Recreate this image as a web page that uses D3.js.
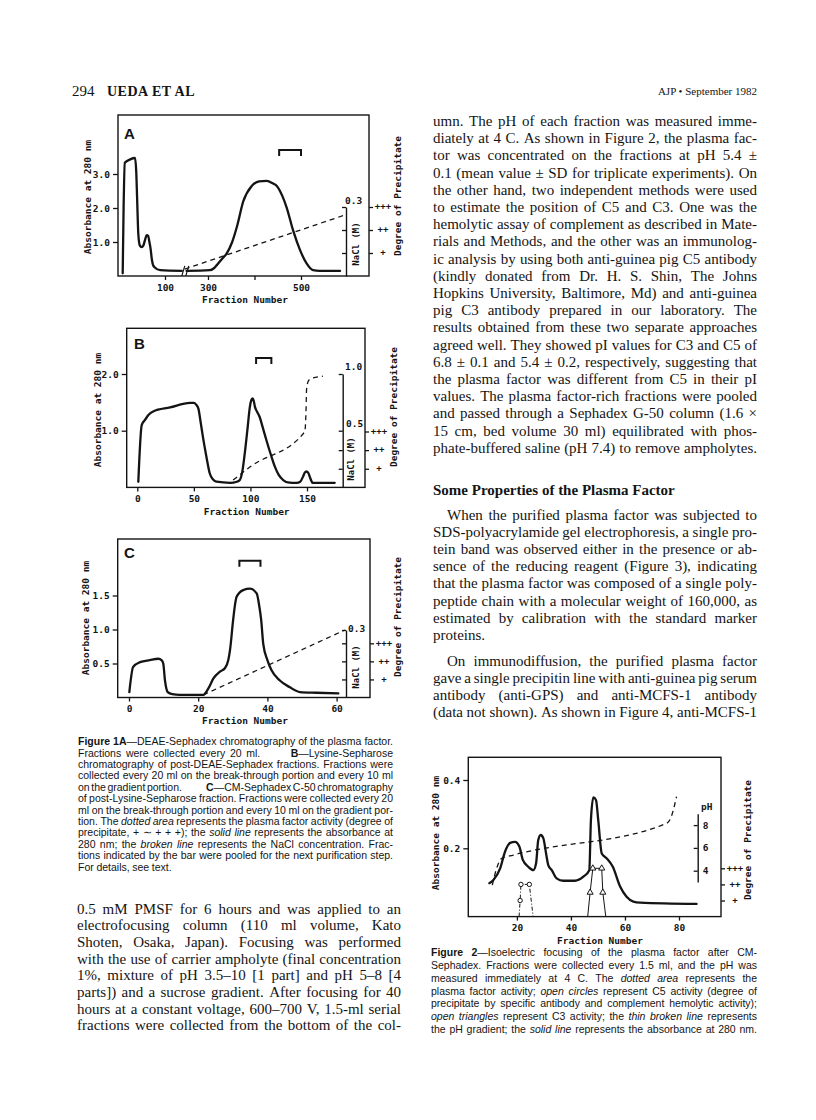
<!DOCTYPE html>
<html><head><meta charset="utf-8">
<script src="https://cdn.jsdelivr.net/npm/d3@7"></script>
<style>html,body{margin:0;padding:0;background:#fff;}svg{display:block}</style>
</head><body>
<script>
// ---------------- DATA ----------------
const absA_left = [[29.5,0.08],[31,2.0],[33,3.33],[42,3.43],[50,3.47],[52,3.1],[53.5,2.3],[55.5,1.24],[58,0.9],[61,0.85],[64,0.9],[67,1.08],[69.5,1.2],[72,1.18],[74,1.0],[76,0.8],[78,0.5],[80,0.33],[83,0.25],[92,0.17],[128,0.15]];
const absA_right = [[254,0.15],[304,0.17],[312,0.22],[319,0.32],[330,0.5],[340,0.66],[352,1.0],[362,1.44],[376,2.2],[394,2.65],[410,2.78],[426,2.8],[440,2.72],[448,2.65],[460,2.35],[469,2.02],[483,1.34],[498,0.76],[512,0.37],[526,0.17],[540,0.15],[584,0.15]];
const naclA = [[250,0.03],[594,0.265]];
const actA = [[418,0],[431,1.5],[444,3],[496,3],[508,1.5],[519,0]];
const barA = [453,500];
const absB = [[0.9,0.1],[3.9,1.1],[6.8,1.19],[10,1.28],[14,1.34],[29,1.41],[46.5,1.49],[50,1.49],[52,1.46],[54,1.39],[56,1.15],[58,0.89],[61,0.55],[64,0.25],[67,0.14],[70,0.1],[82,0.08],[88,0.1],[90.6,0.13],[93,0.3],[95,0.6],[97.5,1.05],[99.5,1.42],[101,1.55],[102,1.57],[103,1.52],[104,1.42],[106,1.33],[108,1.25],[111,1.05],[114,0.84],[118,0.58],[121.5,0.37],[125,0.22],[129,0.13],[133,0.09],[140.7,0.08],[144,0.1],[146.5,0.19],[148,0.26],[149.5,0.28],[151,0.26],[152.4,0.19],[154,0.11],[155,0.08],[174.5,0.08]];
const naclB = [[84.7,0.065],[99.5,0.18],[148,0.49],[149.2,0.7],[149.6,0.86],[150.5,0.92],[152,0.95],[154,0.96],[164,0.98]];
const actB = [[99.5,0],[101,1.2],[103,2.3],[105.4,3],[120,3],[122.5,2.2],[125,1.1],[127.4,0]];
const barB = [105,118.5];
const absC = [[0.1,0.08],[1.2,0.45],[3.2,0.52],[6,0.55],[8.5,0.57],[9.4,0.55],[9.9,0.5],[10.4,0.25],[11.2,0.08],[12.5,0.05],[14.7,0.04],[21.5,0.04],[22.9,0.13],[24.4,0.28],[26.3,0.38],[27.7,0.43],[28.7,0.55],[29.2,0.7],[30.1,1.14],[30.6,1.35],[31.1,1.48],[33,1.58],[35,1.6],[36.9,1.53],[37.6,1.36],[38.2,1.14],[38.8,0.79],[40,0.55],[41.2,0.4],[43.6,0.25],[46.5,0.15],[49.4,0.08],[54.2,0.07],[60.5,0.06]];
const naclC = [[21.5,0.012],[62.4,0.3]];
const actC = [[30.3,0],[30.3,3],[39.3,3],[39.3,0]];
const barC = [31.9,38];
const absF2 = [[9.8,0.098],[11.3,0.107],[13.8,0.141],[15.6,0.19],[17.5,0.216],[19.3,0.219],[20.9,0.205],[22.2,0.166],[24.2,0.146],[26.1,0.136],[27.1,0.156],[27.9,0.224],[28.8,0.239],[29.8,0.229],[30.8,0.185],[31.6,0.151],[32.9,0.136],[34.7,0.112],[37.2,0.105],[41.5,0.105],[44.6,0.117],[46.8,0.136],[47.4,0.283],[48.3,0.349],[49.3,0.341],[50.1,0.283],[51.4,0.185],[53.2,0.171],[55.5,0.146],[58.2,0.088],[60.6,0.058],[63.1,0.044],[65.6,0.041],[86.5,0.037]];
const phF2 = [[10.9,2.74],[12.5,4.2],[14.4,5.08],[18.7,5.37],[75.4,8.15],[76.9,8.6],[79.1,10.5]];
const actF2 = [[26.3,0],[26.3,3],[31.3,3],[31.3,0]];
const c5F2 = [[20.8,0],[21.2,1],[21.5,2],[24.6,2],[26,0]];
const c3F2 = [[46.2,0],[47.1,1.5],[48.1,3],[51.4,3],[51.8,1.5],[52.9,0]];
const absTicksA=[1,2,3], absTicksB=[1,2], absTicksC=[0.5,1,1.5], absTicksF2=[0.2,0.4];
const fracTicksAL=[100], fracTicksAR=[300,400,500], fracTicksB=[0,50,100,150], fracTicksC=[0,20,40,60], fracTicksF2=[20,40,60,80];
const degreeTicks=[1,2,3];
const phTicks=[4,6,8];

// ---------------- TEXT ----------------
const header = {page:"294", authors:"UEDA ET AL", journal:"AJP \u2022 September 1982"};
const rightCol1 = [
"umn. The pH of each fraction was measured imme-",
"diately at 4 C. As shown in Figure 2, the plasma fac-",
"tor was concentrated on the fractions at pH 5.4 \u00b1",
"0.1 (mean value \u00b1 SD for triplicate experiments). On",
"the other hand, two independent methods were used",
"to estimate the position of C5 and C3. One was the",
"hemolytic assay of complement as described in Mate-",
"rials and Methods, and the other was an immunolog-",
"ic analysis by using both anti-guinea pig C5 antibody",
"(kindly donated from Dr. H. S. Shin, The Johns",
"Hopkins University, Baltimore, Md) and anti-guinea",
"pig C3 antibody prepared in our laboratory. The",
"results obtained from these two separate approaches",
"agreed well. They showed pI values for C3 and C5 of",
"6.8 \u00b1 0.1 and 5.4 \u00b1 0.2, respectively, suggesting that",
"the plasma factor was different from C5 in their pI",
"values. The plasma factor-rich fractions were pooled",
"and passed through a Sephadex G-50 column (1.6 \u00d7",
"15 cm, bed volume 30 ml) equilibrated with phos-",
"phate-buffered saline (pH 7.4) to remove ampholytes."];
const heading = "Some Properties of the Plasma Factor";
const rightPara2 = [
"When the purified plasma factor was subjected to",
"SDS-polyacrylamide gel electrophoresis, a single pro-",
"tein band was observed either in the presence or ab-",
"sence of the reducing reagent (Figure 3), indicating",
"that the plasma factor was composed of a single poly-",
"peptide chain with a molecular weight of 160,000, as",
"estimated by calibration with the standard marker",
"proteins."];
const rightPara3 = [
"On immunodiffusion, the purified plasma factor",
"gave a single precipitin line with anti-guinea pig serum",
"antibody (anti-GPS) and anti-MCFS-1 antibody",
"(data not shown). As shown in Figure 4, anti-MCFS-1"];
const leftCol = [
"0.5 mM PMSF for 6 hours and was applied to an",
"electrofocusing column (110 ml volume, Kato",
"Shoten, Osaka, Japan). Focusing was performed",
"with the use of carrier ampholyte (final concentration",
"1%, mixture of pH 3.5\u201310 [1 part] and pH 5\u20138 [4",
"parts]) and a sucrose gradient. After focusing for 40",
"hours at a constant voltage, 600\u2013700 V, 1.5-ml serial",
"fractions were collected from the bottom of the col-"];
const cap1 = [
"*Figure 1A*\u2014DEAE-Sephadex chromatography of the plasma factor.",
"Fractions were collected every 20 ml. \u2003\u2003 *B*\u2014Lysine-Sepharose",
"chromatography of post-DEAE-Sephadex fractions. Fractions were",
"collected every 20 ml on the break-through portion and every 10 ml",
"on the gradient portion. \u2003\u2003 *C*\u2014CM-Sephadex C-50 chromatography",
"of post-Lysine-Sepharose fraction. Fractions were collected every 20",
"ml on the break-through portion and every 10 ml on the gradient por-",
"tion. The _dotted area_ represents the plasma factor activity (degree of",
"precipitate, + \u223c + + +); the _solid line_ represents the absorbance at",
"280 nm; the _broken line_ represents the NaCl concentration. Frac-",
"tions indicated by the bar were pooled for the next purification step.",
"For details, see text."];
const cap2 = [
"*Figure 2*\u2014Isoelectric focusing of the plasma factor after CM-",
"Sephadex. Fractions were collected every 1.5 ml, and the pH was",
"measured immediately at 4 C. The _dotted area_ represents the",
"plasma factor activity; _open circles_ represent C5 activity (degree of",
"precipitate by specific antibody and complement hemolytic activity);",
"_open triangles_ represent C3 activity; the _thin broken line_ represents",
"the pH gradient; the _solid line_ represents the absorbance at 280 nm."];

// ---------------- DRAW ----------------
const svg = d3.select('body').append('svg').attr('width',816).attr('height',1120);
svg.append('rect').attr('width',816).attr('height',1120).attr('fill','#fff');
const INK = '#141414';
const MONO = "'DejaVu Sans Mono', monospace";
const SERIF = "'Liberation Serif', 'Times New Roman', serif";
const SANS = "'Liberation Sans', Arial, sans-serif";

const defs = svg.append('defs');
const pat = defs.append('pattern').attr('id','chk').attr('patternUnits','userSpaceOnUse').attr('width',3).attr('height',3);
pat.append('rect').attr('width',3).attr('height',3).attr('fill','#fff');
pat.append('rect').attr('x',0).attr('y',0).attr('width',1.5).attr('height',1.5).attr('fill','#1a1a1a');
pat.append('rect').attr('x',1.5).attr('y',1.5).attr('width',1.5).attr('height',1.5).attr('fill','#1a1a1a');

function label(g,x,y,s,o={}){
  const t=g.append('text').attr('x',x).attr('y',y).text(s)
    .attr('font-family',o.family||MONO).attr('font-weight',o.weight||'bold')
    .attr('font-size',o.size||9.5).attr('text-anchor',o.anchor||'start')
    .attr('dominant-baseline','central').attr('fill',INK);
  if(o.rot) t.attr('transform',`rotate(-90,${x},${y})`);
  return t;
}
function styleAxis(ag, opts={}){
  ag.selectAll('line').attr('stroke',INK).attr('stroke-width',1.3);
  ag.selectAll('path.domain').attr('stroke',INK).attr('stroke-width',1.4);
  ag.selectAll('text').attr('font-family',MONO).attr('font-weight','bold').attr('font-size',opts.size||9).attr('fill',INK);
  if(opts.noDomain) ag.select('path.domain').remove();
  ag.attr('font-family',null);
}
function frame(g,f){
  g.append('rect').attr('x',f.x0).attr('y',f.y0).attr('width',f.x1-f.x0).attr('height',f.y1-f.y0)
   .attr('fill','none').attr('stroke',INK).attr('stroke-width',1.4);
}
function absLine(g,data,x,y){
  g.append('path').datum(data).attr('fill','none').attr('stroke',INK).attr('stroke-width',2.3)
   .attr('stroke-linejoin','round').attr('stroke-linecap','round')
   .attr('d',d3.line().x(d=>x(d[0])).y(d=>y(d[1])).curve(d3.curveMonotoneX));
}
function dashLine(g,data,x,y,w=1.3,dash='5,4'){
  g.append('path').datum(data).attr('fill','none').attr('stroke',INK).attr('stroke-width',w)
   .attr('stroke-dasharray',dash)
   .attr('d',d3.line().x(d=>x(d[0])).y(d=>y(d[1])).curve(d3.curveMonotoneX));
}
function actArea(g,data,x,deg){
  g.append('path').datum(data).attr('fill','url(#chk)').attr('stroke',INK).attr('stroke-width',1)
   .attr('stroke-dasharray','2,1.5')
   .attr('d',d3.line().x(d=>x(d[0])).y(d=>deg(d[1])).curve(d3.curveLinear)+'Z');
}
function bracket(g,b,x,y){
  const x0=x(b[0]), x1=x(b[1]);
  g.append('path').attr('fill','none').attr('stroke',INK).attr('stroke-width',2)
   .attr('d',`M${x0},${y+6}V${y}H${x1}V${y+6}`);
}
function leftAxis(g,scale,ticks,xpos,fmt){
  const ag=g.append('g').attr('transform',`translate(${xpos},0)`)
    .call(d3.axisLeft(scale).tickValues(ticks).tickFormat(fmt).tickSize(5).tickPadding(3));
  styleAxis(ag,{noDomain:true,size:9.5});
}
function bottomAxis(g,scale,ticks,ypos,fmt){
  const ag=g.append('g').attr('transform',`translate(0,${ypos})`)
    .call(d3.axisBottom(scale).tickValues(ticks).tickFormat(fmt||(d=>d)).tickSize(4).tickPadding(4));
  styleAxis(ag,{noDomain:true,size:9.5});
}
function innerAxis(g,scale,ticks,xpos){
  const ag=g.append('g').attr('transform',`translate(${xpos},0)`)
    .call(d3.axisLeft(scale).tickValues(ticks).tickFormat('').tickSize(4).tickSizeOuter(0));
  styleAxis(ag);
}
function extraTicks(g,scale,ticks,xpos){
  const ag=g.append('g').attr('transform',`translate(${xpos},0)`)
    .call(d3.axisLeft(scale).tickValues(ticks).tickFormat('').tickSize(4));
  styleAxis(ag,{noDomain:true});
}
function degreeAxis(g,scale,xpos){
  const ag=g.append('g').attr('transform',`translate(${xpos},0)`)
    .call(d3.axisRight(scale).tickValues(degreeTicks).tickFormat(d=>'+'.repeat(d)).tickSize(4).tickPadding(3));
  styleAxis(ag,{noDomain:true,size:9});
  ag.selectAll('text').attr('text-anchor','middle').attr('x',14).attr('dy','0.2em');
}

// ---------- Panel A ----------
{
  const g=svg.append('g');
  const F={x0:118,x1:369,y0:115,y1:276};
  const xL=d3.scaleLinear().domain([0,100]).range([105,165]);
  const xR=d3.scaleLinear().domain([300,500]).range([208,301]);
  const y=d3.scaleLinear().domain([0,3]).range([F.y1,174]);
  const nacl=d3.scaleLinear().domain([0,0.3]).range([F.y1,207]);
  const deg=d3.scaleLinear().domain([0,3]).range([F.y1,207]);
  actArea(g,actA,xR,deg);
  frame(g,F);
  leftAxis(g,y,absTicksA,F.x0,d3.format('.1f'));
  bottomAxis(g,xL,fracTicksAL,F.y1);
  bottomAxis(g,xR,fracTicksAR,F.y1,d=>d===400?'':d);
  absLine(g,absA_left,xL,y);
  absLine(g,absA_right,xR,y);
  dashLine(g,naclA,xR,nacl);
  const bx=xL(128)+1.5, by=y(0.15);
  [0,4].forEach(o=>g.append('line').attr('x1',bx+o-1.5).attr('y1',by+5).attr('x2',bx+o+1.5).attr('y2',by-5).attr('stroke',INK).attr('stroke-width',1.2));
  innerAxis(g,nacl,[0.1,0.2,0.3],346);
  degreeAxis(g,deg,F.x1);
  bracket(g,barA,xR,150);
  label(g,345,200,'0.3',{size:9.5});
  label(g,356,244,'NaCl (M)',{rot:true,anchor:'middle',size:9});
  label(g,87,197,'Absorbance at 280 nm',{rot:true,anchor:'middle'});
  label(g,397,196,'Degree of Precipitate',{rot:true,anchor:'middle'});
  label(g,245,299,'Fraction Number',{anchor:'middle'});
  label(g,124,133,'A',{family:SANS,size:15,weight:'bold'});
}
// ---------- Panel B ----------
{
  const g=svg.append('g');
  const F={x0:126.7,x1:365,y0:328.3,y1:487.4};
  const x=d3.scaleLinear().domain([0,150]).range([137.3,307]);
  const y=d3.scaleLinear().domain([0,2]).range([F.y1,374]);
  const nacl=d3.scaleLinear().domain([0,1]).range([F.y1,374]);
  const deg=d3.scaleLinear().domain([0,3]).range([F.y1,431.5]);
  actArea(g,actB,x,deg);
  frame(g,F);
  leftAxis(g,y,absTicksB,F.x0,d3.format('.1f'));
  bottomAxis(g,x,fracTicksB,F.y1);
  absLine(g,absB,x,y);
  dashLine(g,naclB,x,nacl);
  innerAxis(g,nacl,[0.5,1.0],342.7);
  extraTicks(g,deg,[1,2],342.7);
  degreeAxis(g,deg,F.x1);
  bracket(g,barB,x,358);
  label(g,345,366,'1.0',{size:9.5});
  label(g,346,423,'0.5',{size:9.5});
  label(g,351,459,'NaCl (M)',{rot:true,anchor:'middle',size:9});
  label(g,97,410,'Absorbance at 280 nm',{rot:true,anchor:'middle'});
  label(g,393,407,'Degree of Precipitate',{rot:true,anchor:'middle'});
  label(g,246.7,511.7,'Fraction Number',{anchor:'middle'});
  label(g,134,343,'B',{family:SANS,size:15,weight:'bold'});
}
// ---------- Panel C ----------
{
  const g=svg.append('g');
  const F={x0:117.7,x1:370,y0:539,y1:697.5};
  const x=d3.scaleLinear().domain([0,60]).range([129,336.6]);
  const y=d3.scaleLinear().domain([0,1.5]).range([F.y1,595.5]);
  const nacl=d3.scaleLinear().domain([0,0.3]).range([F.y1,630]);
  const deg=d3.scaleLinear().domain([0,3]).range([F.y1,643.3]);
  actArea(g,actC,x,deg);
  frame(g,F);
  leftAxis(g,y,absTicksC,F.x0,d3.format('.1f'));
  bottomAxis(g,x,fracTicksC,F.y1);
  absLine(g,absC,x,y);
  dashLine(g,naclC,x,nacl);
  innerAxis(g,nacl,[0.3],346);
  extraTicks(g,deg,[1,2,3],346);
  degreeAxis(g,deg,F.x1);
  bracket(g,barC,x,560.7);
  label(g,348,628,'0.3',{size:9.5});
  label(g,356,667,'NaCl (M)',{rot:true,anchor:'middle',size:9});
  label(g,85,618,'Absorbance at 280 nm',{rot:true,anchor:'middle'});
  label(g,397,617,'Degree of Precipitate',{rot:true,anchor:'middle'});
  label(g,245,720.7,'Fraction Number',{anchor:'middle'});
  label(g,124,552,'C',{family:SANS,size:15,weight:'bold'});
}
// ---------- Figure 2 ----------
{
  const g=svg.append('g');
  const F={x0:468.3,x1:721,y0:757.3,y1:916.6};
  const x=d3.scaleLinear().domain([20,80]).range([516.9,679]);
  const y=d3.scaleLinear().domain([0,0.4]).range([F.y1,780]);
  const ph=d3.scaleLinear().domain([3,9]).range([882.1,813.7]);
  const deg=d3.scaleLinear().domain([0,3]).range([F.y1,868.3]);
  actArea(g,actF2,x,deg);
  frame(g,F);
  leftAxis(g,y,absTicksF2,F.x0,d3.format('.1f'));
  bottomAxis(g,x,fracTicksF2,F.y1);
  absLine(g,absF2,x,y);
  dashLine(g,phF2,x,ph,1.3,'5,4');
  g.append('path').datum(c5F2).attr('fill','none').attr('stroke',INK).attr('stroke-width',1)
    .attr('stroke-dasharray','4,2,1,2').attr('d',d3.line().x(d=>x(d[0])).y(d=>deg(d[1])));
  g.selectAll('circle.c5').data(c5F2.slice(1,4)).join('circle').attr('class','c5')
    .attr('cx',d=>x(d[0])).attr('cy',d=>deg(d[1])).attr('r',2.2).attr('fill','#fff').attr('stroke',INK).attr('stroke-width',1);
  g.append('path').datum(c3F2).attr('fill','none').attr('stroke',INK).attr('stroke-width',1)
    .attr('d',d3.line().x(d=>x(d[0])).y(d=>deg(d[1])));
  g.selectAll('path.c3').data(c3F2.slice(1,5)).join('path').attr('class','c3')
    .attr('transform',d=>`translate(${x(d[0])},${deg(d[1])})`)
    .attr('d',d3.symbol(d3.symbolTriangle,16)).attr('fill','#fff').attr('stroke',INK).attr('stroke-width',1);
  const pa=g.append('g').attr('transform','translate(697.7,0)')
    .call(d3.axisLeft(ph).tickValues(phTicks).tickSize(4).tickSizeOuter(0).tickFormat(d=>d));
  styleAxis(pa,{size:9.5});
  pa.selectAll('text').attr('text-anchor','start').attr('x',5);
  label(g,701,806.5,'pH',{size:9.5});
  degreeAxis(g,deg,F.x1);
  label(g,435,833,'Absorbance at 280 nm',{rot:true,anchor:'middle'});
  label(g,747,840,'Degree of Precipitate',{rot:true,anchor:'middle'});
  label(g,600,940.7,'Fraction Number',{anchor:'middle'});
}

// ---------------- TEXT BLOCKS ----------------
function splitWords(line){
  const words=[]; let cur=[]; let b=false,i=false; let run=null;
  const flush=()=>{ if(run&&run.t) cur.push(run); run=null; };
  for(const ch of line){
    if(ch==='*'){ flush(); b=!b; continue; }
    if(ch==='_'){ flush(); i=!i; continue; }
    if(ch===' '){ flush(); if(cur.length) words.push(cur); cur=[]; continue; }
    if(!run) run={t:'',b,i};
    run.t+=ch;
  }
  flush(); if(cur.length) words.push(cur);
  return words;
}
function block(lines,o){
  const g=svg.append('g');
  lines.forEach((ln,k)=>{
    const lg=g.append('g');
    const base=o.y0+k*o.lh+o.size*0.3;
    const ind=(o.indent&&o.indent[k])||0;
    const words=splitWords(ln);
    const els=words.map(w=>{
      const t=lg.append('text').attr('y',base).attr('font-family',o.family).attr('font-size',o.size).attr('fill',INK)
        .attr('font-weight',o.weight||'normal');
      w.forEach(r=>{const s=t.append('tspan').text(r.t); if(r.b) s.attr('font-weight','bold'); if(r.i) s.attr('font-style','italic');});
      return t;
    });
    const widths=els.map(e=>e.node().getComputedTextLength());
    const total=d3.sum(widths);
    const sp=o.size*0.25;
    const avail=o.width-ind;
    const just=!(o.noJust||[]).includes(k) && els.length>1;
    let gap=sp, scale=1;
    if(just) gap=(avail-total)/(els.length-1);
    if(gap<sp*0.55){ gap=sp*0.55; const w=total+gap*(els.length-1); if(w>avail) scale=avail/w; }
    let xx=o.x+ind;
    els.forEach((e,j)=>{ e.attr('x',xx); xx+=widths[j]+gap; });
    if(scale<1) lg.attr('transform',`translate(${o.x+ind},0) scale(${scale},1) translate(${-(o.x+ind)},0)`);
  });
  return g;
}
svg.append('text').attr('x',72).attr('y',96).text(header.page).attr('font-family',SERIF).attr('font-size',15).attr('fill',INK);
svg.append('text').attr('x',107).attr('y',96).text(header.authors).attr('font-family',SERIF).attr('font-weight','bold').attr('font-size',14).attr('letter-spacing',0.5).attr('fill',INK);
svg.append('text').attr('x',757).attr('y',95).text(header.journal).attr('font-family',SERIF).attr('font-size',11).attr('text-anchor','end').attr('fill',INK);

block(rightCol1,{x:433,width:324,y0:121.5,lh:17.2,size:15,family:SERIF});
block([heading],{x:433,width:324,y0:490,lh:17.2,size:15,family:SERIF,weight:'bold',noJust:[0]});
block(rightPara2,{x:433,width:324,y0:515,lh:17.2,size:15,family:SERIF,indent:{0:14},noJust:[7]});
block(rightPara3,{x:433,width:324,y0:661,lh:17.2,size:15,family:SERIF,indent:{0:14}});
block(leftCol,{x:77,width:324,y0:909,lh:16.7,size:15,family:SERIF});
block(cap1,{x:78,width:315,y0:742,lh:11.4,size:10.5,family:SANS,noJust:[11]});
block(cap2,{x:431,width:326,y0:953.3,lh:12.7,size:10.5,family:SANS});
</script>
</body></html>
